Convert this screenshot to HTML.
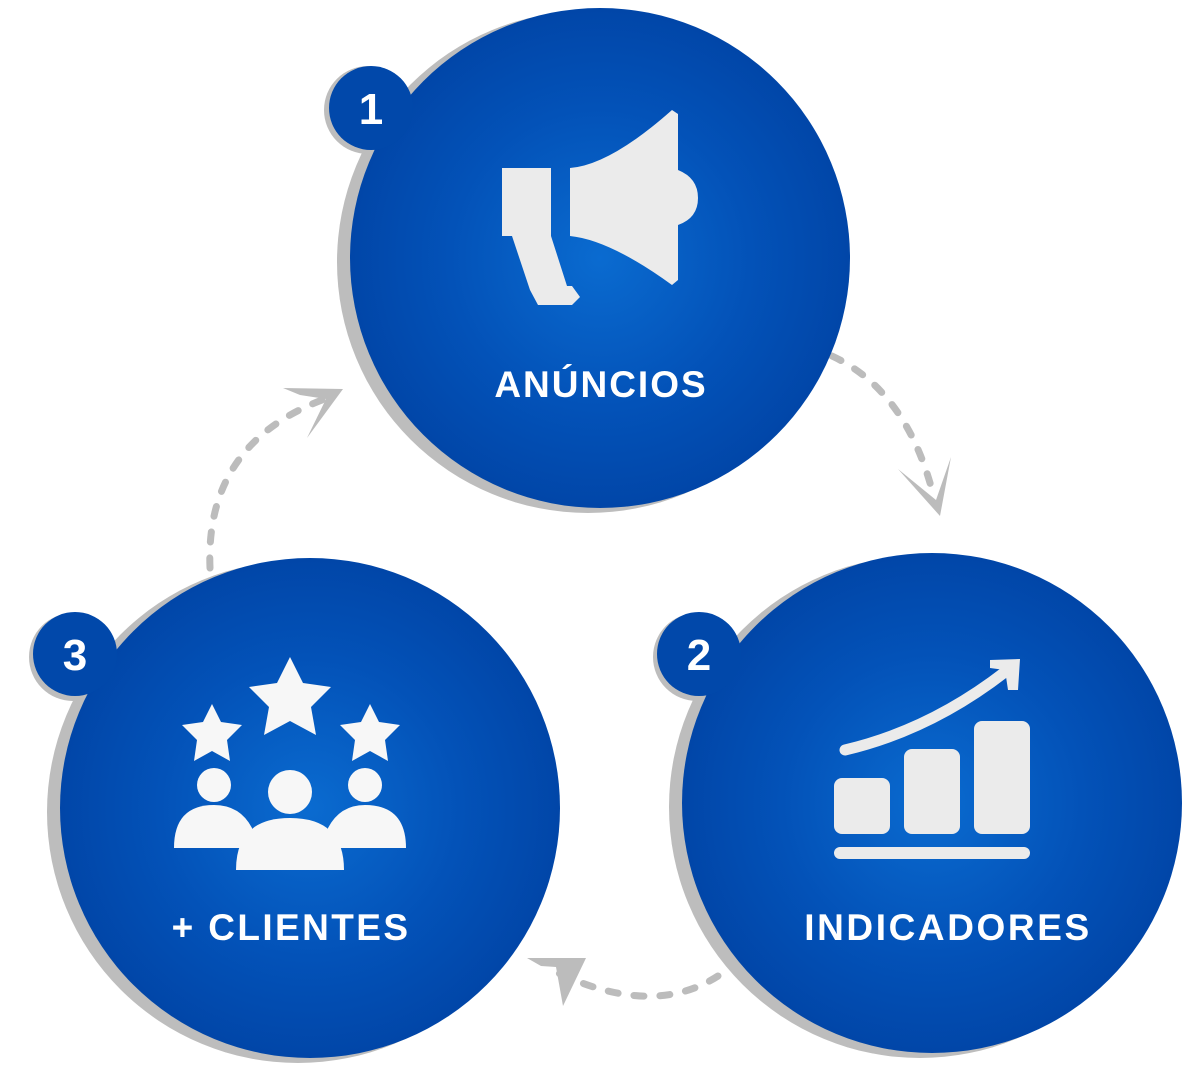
<!DOCTYPE html>
<html><head><meta charset="utf-8"><style>
html,body{margin:0;padding:0;background:#fff;width:1200px;height:1080px;overflow:hidden}
svg text{font-family:"Liberation Sans",sans-serif;font-weight:bold;fill:#fff}
</style></head><body>
<svg width="1200" height="1080" viewBox="0 0 1200 1080">
<defs>
<radialGradient id="g" cx="50%" cy="50%" r="50%">
<stop offset="0" stop-color="#0a6bd0"/><stop offset="0.6" stop-color="#0352b8"/><stop offset="1" stop-color="#0146a8"/>
</radialGradient>
</defs>
<g fill="none" stroke="#bcbcbc" stroke-width="7" stroke-linecap="round" stroke-dasharray="10 16">
<path d="M832 356 Q905 390 932 490"/>
<path d="M210 568 Q205 445 322 400"/>
<path d="M718 976 Q650 1020 548 968"/>
</g>
<g fill="#bcbcbc">
<polygon points="898,469 936,500 951,457 940,516"/>
<polygon points="283,388 343,389 307,438 326,399 300,395"/>
<polygon points="527,958 586,958 563,1006 556,967 541,966"/>
</g>
<circle cx="588" cy="262" r="251" fill="#bdbdbd"/>
<circle cx="920" cy="807" r="251" fill="#bdbdbd"/>
<circle cx="298" cy="812" r="251" fill="#bdbdbd"/>
<circle cx="368" cy="110" r="44" fill="#bdbdbd"/>
<circle cx="697" cy="657" r="44" fill="#bdbdbd"/>
<circle cx="73" cy="657" r="44" fill="#bdbdbd"/>
<circle cx="600" cy="258" r="250" fill="url(#g)"/>
<circle cx="932" cy="803" r="250" fill="url(#g)"/>
<circle cx="310" cy="808" r="250" fill="url(#g)"/>
<circle cx="371" cy="108" r="42" fill="#0148aa"/>
<circle cx="699" cy="654" r="42" fill="#0148aa"/>
<circle cx="75" cy="654" r="42" fill="#0148aa"/>
<text x="371" y="124" font-size="44" text-anchor="middle">1</text>
<text x="699" y="670" font-size="44" text-anchor="middle">2</text>
<text x="75" y="670" font-size="44" text-anchor="middle">3</text>
<g fill="#ebebeb">
<rect x="502" y="168" width="49" height="68"/>
<polygon points="502,236 512,236 530,290 538,305 572,305 580,297 572,286 567,286 551,236"/>
<path d="M570 168 Q610 165 672 110 L678 114 L678 170 Q698 178 698 198 Q698 218 678 225 L678 280 L672 285 Q610 240 570 236 Z"/>
</g>
<text x="601" y="397" font-size="37" text-anchor="middle" letter-spacing="2">ANÚNCIOS</text>
<g fill="#ebebeb">
<rect x="834" y="778" width="56" height="56" rx="8"/>
<rect x="904" y="749" width="56" height="85" rx="8"/>
<rect x="974" y="721" width="56" height="113" rx="8"/>
<rect x="834" y="847" width="196" height="12" rx="6"/>
</g>
<path d="M845 750 Q930 730 1005 672" stroke="#ebebeb" stroke-width="11" fill="none" stroke-linecap="round"/>
<polygon points="990,660 1020,659 1018,690 1008,690 1005,670 990,668" fill="#ebebeb"/>
<text x="948" y="940" font-size="37" text-anchor="middle" letter-spacing="2.6">INDICADORES</text>
<g fill="#f7f7f7">
<polygon points="290,657 303,683 331,687 311,707 316,735 290,721 264,735 269,707 249,687 277,683"/>
<polygon points="212,704 221,722 242,725 227,740 230,761 212,751 194,761 197,740 182,725 203,722"/>
<polygon points="370,704 379,722 400,725 385,740 388,761 370,751 352,761 355,740 340,725 361,722"/>
<circle cx="214" cy="785" r="17"/><circle cx="365" cy="785" r="17"/><circle cx="290" cy="792" r="22"/>
<path d="M174 848 Q174 805 214 805 Q240 805 252 828 L252 848 Z"/>
<path d="M406 848 Q406 805 365 805 Q340 805 328 828 L328 848 Z"/>
<path d="M236 870 Q236 818 290 818 Q344 818 344 870 Z"/>
</g>
<text x="291" y="940" font-size="37" text-anchor="middle" letter-spacing="2.4">+ CLIENTES</text>
</svg>
</body></html>
